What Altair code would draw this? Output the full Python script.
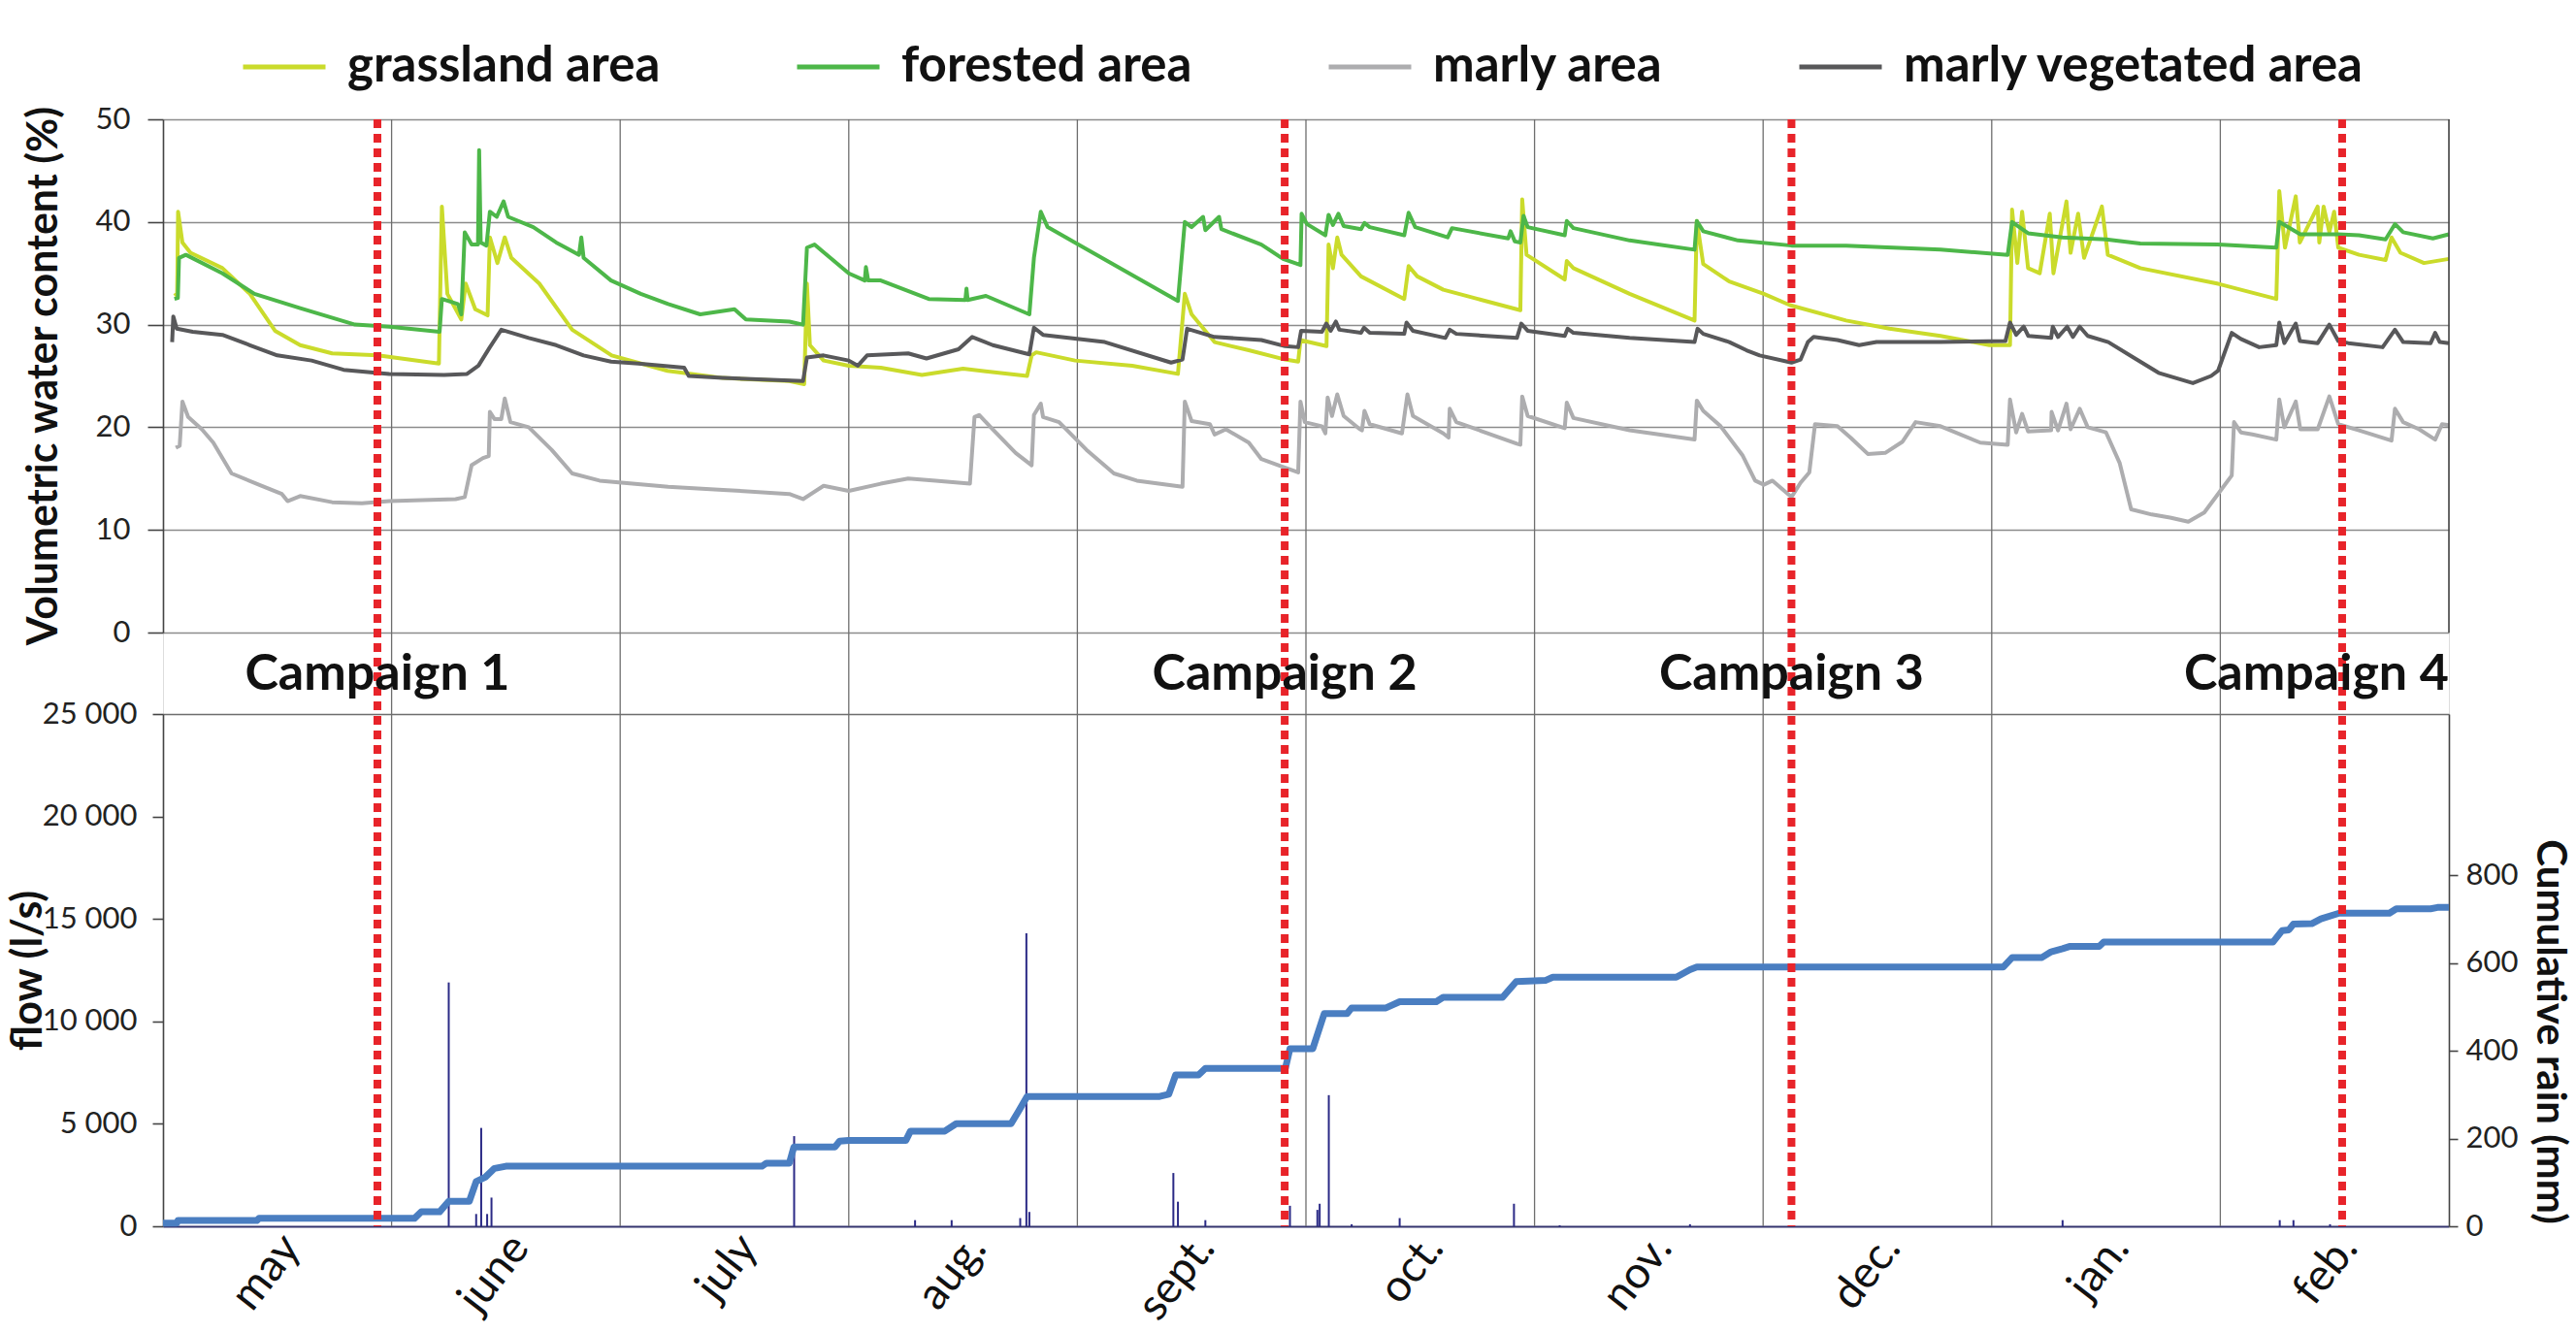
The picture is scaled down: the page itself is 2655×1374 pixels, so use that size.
import json
import altair as alt
import pandas as pd

# ---------------------------------------------------------------------------
# Data (x positions are in months since 1 May; 0 = start of May, 10 = end of Feb)
# ---------------------------------------------------------------------------
MONTHS = ["may", "june", "july", "aug.", "sept.", "oct.", "nov.", "dec.", "jan.", "feb."]
MONTH_BOUNDS = [1, 2, 3, 4, 5, 6, 7, 8, 9]

SERIES = ["grassland area", "forested area", "marly area", "marly vegetated area"]
COLORS = ["#CADB2B", "#4DB749", "#ADADAF", "#58585A"]

grass_m = [0.05, 0.062, 0.066, 0.085, 0.12, 0.26, 0.38, 0.49, 0.60, 0.74, 0.94, 1.207, 1.22, 1.244,
           1.305, 1.324, 1.366, 1.42, 1.43, 1.463, 1.495, 1.524, 1.646, 1.79, 1.963, 2.207, 2.45,
           2.74, 2.805, 2.817, 2.83, 2.89, 3.0, 3.14, 3.32, 3.5, 3.78, 3.80, 3.82, 3.99, 4.24, 4.44,
           4.47, 4.50, 4.60, 4.75, 4.909, 4.966, 4.976, 5.09, 5.099, 5.118, 5.137, 5.156, 5.241,
           5.43, 5.449, 5.487, 5.601, 5.752, 5.938, 5.946, 5.965, 6.132, 6.141, 6.17, 6.416, 6.70,
           6.71, 6.738, 6.852, 7.003, 7.117, 7.363, 7.553, 7.776, 7.99, 8.08, 8.089, 8.112, 8.133,
           8.159, 8.21, 8.254, 8.27, 8.327, 8.345, 8.378, 8.404, 8.482, 8.508, 8.65, 8.986, 9.245,
           9.258, 9.283, 9.33, 9.348, 9.426, 9.433, 9.452, 9.477, 9.498, 9.516, 9.607, 9.723,
           9.749, 9.788, 9.891, 10.0]
grass_v = [32.8, 33.0, 41.0, 38.0, 37.0, 35.5, 33.0, 29.4, 28.0, 27.2, 27.0, 26.2, 41.5, 33.0,
           30.5, 34.0, 31.5, 30.9, 38.5, 36.0, 38.5, 36.5, 34.0, 29.5, 27.0, 25.5, 24.8,
           24.5, 24.2, 34.0, 28.0, 26.5, 26.0, 25.8, 25.1, 25.7, 25.0, 27.0, 27.3, 26.5, 26.0, 25.2,
           33.0, 31.0, 28.3, 27.5, 26.6, 26.4, 28.5, 27.9, 37.8, 35.5, 38.5, 36.8, 34.7,
           32.5, 35.7, 34.7, 33.4, 32.5, 31.4, 42.2, 36.8, 34.4, 36.2, 35.5, 33.0, 30.4,
           40.1, 35.9, 34.2, 33.0, 31.9, 30.4, 29.6, 28.9, 28.0, 28.0, 41.2, 36.0, 41.0,
           35.5, 35.0, 40.8, 35.0, 42.0, 37.0, 40.8, 36.5, 41.5, 36.8, 35.5, 34.0, 32.5,
           43.0, 37.5, 42.5, 38.0, 41.5, 38.0, 41.5, 39.0, 41.0, 37.5, 36.8, 36.3,
           38.5, 37.0, 36.0, 36.4]

forest_m = [0.05, 0.065, 0.07, 0.10, 0.26, 0.40, 0.60, 0.84, 0.99, 1.21, 1.22, 1.29, 1.305, 1.32,
            1.35, 1.378, 1.383, 1.39, 1.415, 1.43, 1.46, 1.49, 1.51, 1.62, 1.72, 1.82, 1.83, 1.84,
            1.96, 2.09, 2.21, 2.35, 2.50, 2.55, 2.74, 2.80, 2.817, 2.85, 3.0, 3.07, 3.075, 3.085,
            3.14, 3.35, 3.51, 3.515, 3.52, 3.60, 3.79, 3.81, 3.84, 3.87, 4.44, 4.47, 4.50, 4.55,
            4.56, 4.62, 4.63, 4.805, 4.90, 4.976, 4.981, 5.004, 5.085, 5.099, 5.118, 5.142, 5.165,
            5.241, 5.256, 5.279, 5.43, 5.449, 5.478, 5.62, 5.639, 5.885, 5.895, 5.914, 5.938,
            5.952, 5.97, 6.132, 6.141, 6.17, 6.416, 6.70, 6.71, 6.738, 6.89, 7.124, 7.363, 7.776,
            8.07, 8.089, 8.159, 8.31, 8.5, 8.65, 8.99, 9.245, 9.258, 9.35, 9.516, 9.607, 9.723,
            9.764, 9.8, 9.93, 10.0]
forest_v = [32.5, 32.6, 36.5, 36.8, 35.0, 33.0, 31.6, 30.0, 29.8, 29.3, 32.5, 32.0, 31.0, 39.0,
            37.8, 37.8, 47.0, 38.0, 37.7, 41.0, 40.5, 42.0, 40.5, 39.5, 38.0, 36.8, 38.5, 36.5,
            34.3, 33.0, 32.0, 31.0, 31.5, 30.5, 30.3, 30.0, 37.5, 37.8, 35.0, 34.3, 35.6, 34.3,
            34.3, 32.5, 32.4, 33.5, 32.4, 32.8, 31.0, 36.5, 41.0, 39.5, 32.3, 40.0, 39.5, 40.5,
            39.2, 40.5, 39.3, 37.8, 36.4, 35.8, 40.8, 39.8, 38.7, 40.7, 39.7, 40.8, 39.6,
            39.3, 39.9, 39.5, 38.7, 40.9, 39.5, 38.5, 39.4, 38.4, 39.1, 38.1, 38.0,
            40.6, 39.5, 38.7, 40.1, 39.4, 38.2, 37.3, 40.1, 39.1, 38.2, 37.7, 37.7, 37.3,
            36.8, 40.0, 38.9, 38.5, 38.3, 37.9, 37.8, 37.5, 40.0, 38.8, 38.8, 38.7, 38.3,
            39.8, 39.0, 38.4, 38.8]

marly_m = [0.056, 0.073, 0.085, 0.11, 0.17, 0.22, 0.30, 0.43, 0.52, 0.545, 0.60, 0.74, 0.87, 0.99,
           1.28, 1.32, 1.35, 1.40, 1.425, 1.43, 1.45, 1.48, 1.495, 1.52, 1.60, 1.70, 1.79, 1.91,
           2.21, 2.45, 2.74, 2.80, 2.89, 3.0, 3.14, 3.26, 3.38, 3.53, 3.55, 3.57, 3.63, 3.73, 3.80,
           3.81, 3.84, 3.85, 3.92, 4.04, 4.16, 4.26, 4.46, 4.47, 4.50, 4.58, 4.60, 4.65, 4.75,
           4.805, 4.88, 4.966, 4.976, 4.995, 5.07, 5.085, 5.095, 5.114, 5.137, 5.165, 5.231,
           5.245, 5.256, 5.279, 5.42, 5.444, 5.468, 5.601, 5.624, 5.629, 5.658, 5.923, 5.938,
           5.946, 5.97, 6.132, 6.141, 6.17, 6.416, 6.70, 6.71, 6.738, 6.814, 6.909, 6.965, 7.003,
           7.041, 7.124, 7.164, 7.202, 7.227, 7.325, 7.382, 7.458, 7.534, 7.61, 7.667, 7.776,
           7.95, 8.07, 8.08, 8.107, 8.133, 8.159, 8.26, 8.262, 8.29, 8.327, 8.345, 8.385, 8.42,
           8.50, 8.56, 8.61, 8.70, 8.78, 8.86, 8.93, 9.0, 9.05, 9.06, 9.09, 9.14, 9.245, 9.258,
           9.28, 9.33, 9.35, 9.426, 9.477, 9.516, 9.607, 9.749, 9.764, 9.8, 9.87, 9.94, 9.97, 10.0]
marly_v = [18.0, 18.2, 22.5, 21.0, 19.8, 18.5, 15.5, 14.3, 13.5, 12.8, 13.3, 12.7, 12.6, 12.8,
           13.0, 13.2, 16.3, 17.0, 17.2, 21.5, 20.8, 20.8, 22.8, 20.5, 20.0, 17.8, 15.5, 14.8,
           14.2, 13.9, 13.5, 13.0, 14.3, 13.8, 14.5, 15.0, 14.8, 14.5, 21.0, 21.2, 19.8, 17.5, 16.3,
           21.2, 22.3, 21.0, 20.5, 17.8, 15.5, 14.8, 14.2, 22.5, 20.6, 20.3, 19.3, 19.8, 18.5,
           16.9, 16.3, 15.6, 22.5, 20.5, 20.1, 19.4, 22.9, 21.1, 23.2, 21.1, 19.9,
           19.7, 21.6, 20.3, 19.4, 23.2, 21.1, 19.4, 19.0, 21.8, 20.5, 18.4, 18.3,
           23.0, 21.1, 19.9, 22.4, 20.9, 19.7, 18.8, 22.6, 21.6, 20.1, 17.3, 14.8, 14.4,
           14.8, 13.2, 14.6, 15.6, 20.3, 20.1, 19.0, 17.4, 17.5, 18.6, 20.5, 20.1,
           18.5, 18.3, 22.7, 19.5, 21.3, 19.6, 19.7, 21.5, 19.7, 22.3, 19.8, 21.8, 20.0,
           19.5, 16.5, 12.0, 11.5, 11.2, 10.8, 11.7, 13.8, 15.3, 20.5, 19.5, 19.3, 18.8, 22.7,
           20.0, 22.5, 19.8, 19.8, 23.0, 20.3, 19.7, 18.7, 21.8, 20.5, 19.8, 18.8, 20.3, 20.2]

veg_m = [0.04, 0.045, 0.06, 0.13, 0.26, 0.38, 0.50, 0.65, 0.79, 0.99, 1.23, 1.33, 1.38, 1.43, 1.48,
         1.60, 1.72, 1.84, 1.96, 2.08, 2.28, 2.30, 2.45, 2.80, 2.817, 2.89, 3.0, 3.04, 3.08, 3.26,
         3.34, 3.48, 3.54, 3.63, 3.79, 3.81, 3.85, 4.12, 4.41, 4.46, 4.48, 4.60, 4.805, 4.909,
         4.966, 4.979, 5.07, 5.089, 5.108, 5.131, 5.146, 5.241, 5.254, 5.279, 5.43, 5.44, 5.468,
         5.61, 5.629, 5.658, 5.923, 5.942, 5.97, 6.132, 6.145, 6.17, 6.416, 6.70, 6.713, 6.738,
         6.852, 6.927, 6.985, 7.124, 7.164, 7.196, 7.221, 7.325, 7.42, 7.496, 7.776, 8.06, 8.08,
         8.107, 8.14, 8.16, 8.26, 8.267, 8.29, 8.33, 8.355, 8.385, 8.42, 8.51, 8.62, 8.73, 8.88,
         8.96, 8.99, 9.05, 9.09, 9.17, 9.245, 9.258, 9.28, 9.33, 9.348, 9.426, 9.477, 9.516, 9.56,
         9.71, 9.764, 9.8, 9.92, 9.94, 9.96, 10.0]
veg_v = [28.3, 30.8, 29.6, 29.3, 29.0, 28.0, 27.0, 26.5, 25.6, 25.2, 25.1, 25.2, 26.0, 27.8, 29.5,
         28.7, 28.0, 27.0, 26.4, 26.2, 25.8, 25.0, 24.8, 24.5, 26.8, 27.0, 26.5, 26.0, 27.0, 27.2,
         26.7, 27.6, 28.8, 28.0, 27.1, 29.7, 29.0, 28.3, 26.3, 26.6, 29.6, 28.8, 28.5, 27.9,
         27.8, 29.4, 29.3, 30.1, 29.4, 30.3, 29.5, 29.2, 29.7, 29.2, 29.1, 30.2, 29.4,
         28.7, 29.5, 29.1, 28.7, 30.1, 29.4, 28.9, 29.6, 29.2, 28.7, 28.3, 29.6, 29.1,
         28.3, 27.5, 27.0, 26.3, 26.6, 28.3, 28.8, 28.5, 28.0, 28.3, 28.3, 28.4, 30.2,
         29.0, 29.8, 28.9, 28.7, 29.8, 28.8, 29.8, 28.8, 29.8, 28.9, 28.3, 26.8, 25.3, 24.3,
         25.0, 25.5, 29.2, 28.6, 27.8, 28.0, 30.2, 28.2, 30.1, 28.4, 28.2, 30.0, 28.4, 28.2,
         27.8, 29.5, 28.3, 28.2, 29.2, 28.3, 28.2]

# stream flow peaks (l/s)
flow_m = [1.25, 1.37, 1.392, 1.418, 1.437, 2.761, 3.29, 3.45, 3.75, 3.777, 3.79, 4.42, 4.44, 4.56,
          4.93, 5.05, 5.06, 5.10, 5.20, 5.41, 5.91, 6.11, 6.68, 8.31, 9.26, 9.32, 9.48]
flow_q = [11900, 600, 4800, 600, 1400, 4400, 300, 300, 400, 14300, 700, 2600, 1200, 300,
          1000, 800, 1100, 6400, 100, 400, 1100, 50, 100, 300, 300, 300, 100]

# cumulative rainfall (mm)
rain_m = [0.0, 0.06, 0.065, 0.41, 0.42, 1.10, 1.13, 1.21, 1.25, 1.34, 1.37, 1.41, 1.45, 1.50, 2.62,
          2.64, 2.74, 2.76, 2.94, 2.96, 3.0, 3.25, 3.27, 3.42, 3.47, 3.71, 3.74, 3.78, 4.36, 4.40,
          4.43, 4.53, 4.56, 4.91, 4.93, 5.03, 5.08, 5.18, 5.20, 5.35, 5.41, 5.57, 5.60, 5.86, 5.92,
          6.05, 6.08, 6.62, 6.68, 6.71, 8.05, 8.09, 8.22, 8.26, 8.31, 8.34, 8.47, 8.49, 9.23, 9.27,
          9.30, 9.32, 9.40, 9.44, 9.52, 9.74, 9.77, 9.92, 9.95, 10.0]
rain_mm = [7, 7, 13, 13, 18, 18, 33, 33, 57, 57, 102, 112, 132, 137, 137,
           144, 144, 181, 181, 194, 196, 196, 217, 217, 234, 234, 260, 296, 296, 301,
           345, 345, 360, 360, 405, 405, 485, 485, 498, 498, 512, 512, 522, 522, 558,
           561, 568, 568, 585, 591, 591, 613, 613, 626, 633, 638, 638, 648, 648, 674,
           676, 689, 690, 701, 714, 714, 724, 724, 727, 727]

CAMPAIGN_M = [0.938, 4.907, 7.124, 9.533]
CAMPAIGN_LABEL = ["Campaign 1", "Campaign 2", "Campaign 3", "Campaign 4"]

# ---------------------------------------------------------------------------
# Tables
# ---------------------------------------------------------------------------
rows = []
for name, ms, vs in zip(SERIES, [grass_m, forest_m, marly_m, veg_m], [grass_v, forest_v, marly_v, veg_v]):
    for i, (m, v) in enumerate(zip(ms, vs)):
        rows.append({"m": m, "v": v, "series": name, "i": i})
vwc_df = pd.DataFrame(rows)
flow_df = pd.DataFrame({"m": flow_m, "q": flow_q})
rain_df = pd.DataFrame({"m": rain_m, "mm": rain_mm, "i": range(len(rain_m))})
grid_df = pd.DataFrame({"m": MONTH_BOUNDS})
camp_df = pd.DataFrame({"m": CAMPAIGN_M, "label": CAMPAIGN_LABEL, "n": [1, 2, 3, 4]})
edge_df = pd.DataFrame({"m": [10], "lo": [0], "hi": [50]})

# ---------------------------------------------------------------------------
# Layout / style
# ---------------------------------------------------------------------------
W, H = 2356, 1141
TOP_RANGE = [529, 0]        # soil-moisture panel
LOW_RANGE = [H, 613]        # flow / rain panel
FONT = "Lato"
NAVY = "#2B2A86"
RAIN_BLUE = "#4A7EC1"
RED = "#E8242A"

x_scale = alt.Scale(domain=[0, 10], nice=False, zero=False)
x_axis = alt.Axis(
    values=[k + 0.5 for k in range(10)],
    labelExpr=json.dumps(MONTHS) + "[floor(datum.value)]",
    grid=False, ticks=False, tickSize=0, domain=True, domainColor="#34346E", domainWidth=2,
    labelAngle=308, labelAlign="right", labelBaseline="middle", labelFont=FONT,
    labelFontSize=46, labelColor="#111111", labelOffset=14, labelPadding=14,
    labelOverlap=False, labelFlush=False, title=None,
)


def X(field="m"):
    return alt.X(f"{field}:Q", scale=x_scale, axis=x_axis)


vwc_scale = alt.Scale(domain=[0, 50], range=TOP_RANGE, nice=False, zero=False)

grid = alt.Chart(grid_df).mark_rule(color="#6E6E6E", strokeWidth=1.3).encode(x=X())

vwc = alt.Chart(vwc_df).mark_line(strokeWidth=4, strokeJoin="round").encode(
    x=X(),
    y=alt.Y("v:Q", scale=vwc_scale, axis=alt.Axis(
        orient="left", values=[0, 10, 20, 30, 40, 50], grid=True, gridColor="#8C8C8C",
        gridWidth=1.3, domainColor="#444444", domainWidth=1.6, tickColor="#444444",
        tickSize=16, tickWidth=1.6, labelFont=FONT, labelFontSize=31, labelColor="#222222",
        labelPadding=18, title="Volumetric water content (%)", titleFont=FONT, titleFontSize=43,
        titleFontWeight="bold", titleColor="#111111", titleAngle=270, titleBaseline="alphabetic",
        titleX=-110, titleY=264)),
    color=alt.Color("series:N", scale=alt.Scale(domain=SERIES, range=COLORS), legend=alt.Legend(
        title=None, orient="none", legendX=80, legendY=-99, direction="horizontal", columns=4,
        symbolType="stroke", symbolSize=7225, symbolStrokeWidth=5, labelFont=FONT,
        labelFontSize=51, labelFontWeight="bold", labelColor="#111111", labelOffset=20,
        columnPadding=130, labelLimit=0)),
    order=alt.Order("i:Q"),
)

edge = alt.Chart(edge_df).mark_rule(color="#444444", strokeWidth=1.6).encode(
    x=X(), y=alt.Y("lo:Q", scale=vwc_scale, axis=None), y2="hi:Q"
)

flow = alt.Chart(flow_df).mark_rule(color=NAVY, strokeWidth=2).encode(
    x=X(),
    y=alt.Y("q:Q", scale=alt.Scale(domain=[0, 25000], range=LOW_RANGE, nice=False, zero=False),
            axis=alt.Axis(
                orient="left", values=[0, 5000, 10000, 15000, 20000, 25000],
                labelExpr="replace(format(datum.value, ','), ',', ' ')",
                grid=True, gridColor="#6E6E6E", gridWidth=1.3,
                gridOpacity={"condition": {"test": "datum.value == 25000", "value": 1}, "value": 0},
                domainColor="#444444", domainWidth=1.6, tickColor="#444444", tickSize=11,
                tickWidth=1.6, labelFont=FONT, labelFontSize=31, labelColor="#222222",
                labelPadding=16, title="flow (l/s)", titleFont=FONT, titleFontSize=43,
                titleFontWeight="bold", titleColor="#111111", titleAngle=270,
                titleBaseline="alphabetic", titleX=-126, titleY=877)),
    y2=alt.datum(0),
)

rain = alt.Chart(rain_df).mark_line(color=RAIN_BLUE, strokeWidth=7, strokeJoin="round").encode(
    x=X(),
    y=alt.Y("mm:Q", scale=alt.Scale(domain=[0, 1168], range=LOW_RANGE, nice=False, zero=False),
            axis=alt.Axis(
                orient="right", values=[0, 200, 400, 600, 800], grid=False,
                domainColor="#444444", domainWidth=1.6, tickColor="#444444", tickSize=9,
                tickWidth=1.6, labelFont=FONT, labelFontSize=31, labelColor="#222222",
                labelPadding=8, title="Cumulative rain (mm)", titleFont=FONT, titleFontSize=42,
                titleFontWeight="bold", titleColor="#111111", titleAngle=90,
                titleBaseline="alphabetic", titleX=90, titleY=940)),
    order=alt.Order("i:Q"),
)

campaigns = alt.Chart(camp_df).mark_rule(color=RED, strokeWidth=8, strokeDash=[9, 6]).encode(x=X())

camp_text = alt.Chart(camp_df).transform_filter("datum.n < 4").mark_text(
    font=FONT, fontSize=52, fontWeight="bold", align="center", baseline="alphabetic", color="#111111"
).encode(x=X(), y=alt.value(588), text="label:N")

camp_text_last = alt.Chart(camp_df).transform_filter("datum.n == 4").transform_calculate(
    edge_m="10"
).mark_text(
    font=FONT, fontSize=52, fontWeight="bold", align="right", baseline="alphabetic", color="#111111"
).encode(x=X("edge_m"), y=alt.value(588), text="label:N")

chart = alt.layer(
    grid, flow, rain, vwc, edge, campaigns, camp_text, camp_text_last
).resolve_scale(y="independent").properties(
    width=W, height=H,
    autosize=alt.AutoSizeParams(type="none"),
    padding={"left": 168, "top": 123, "right": 131, "bottom": 110},
).configure_view(stroke=None).configure(background="white")

chart.save("out.html", embed_options={"renderer": "svg", "actions": False})
